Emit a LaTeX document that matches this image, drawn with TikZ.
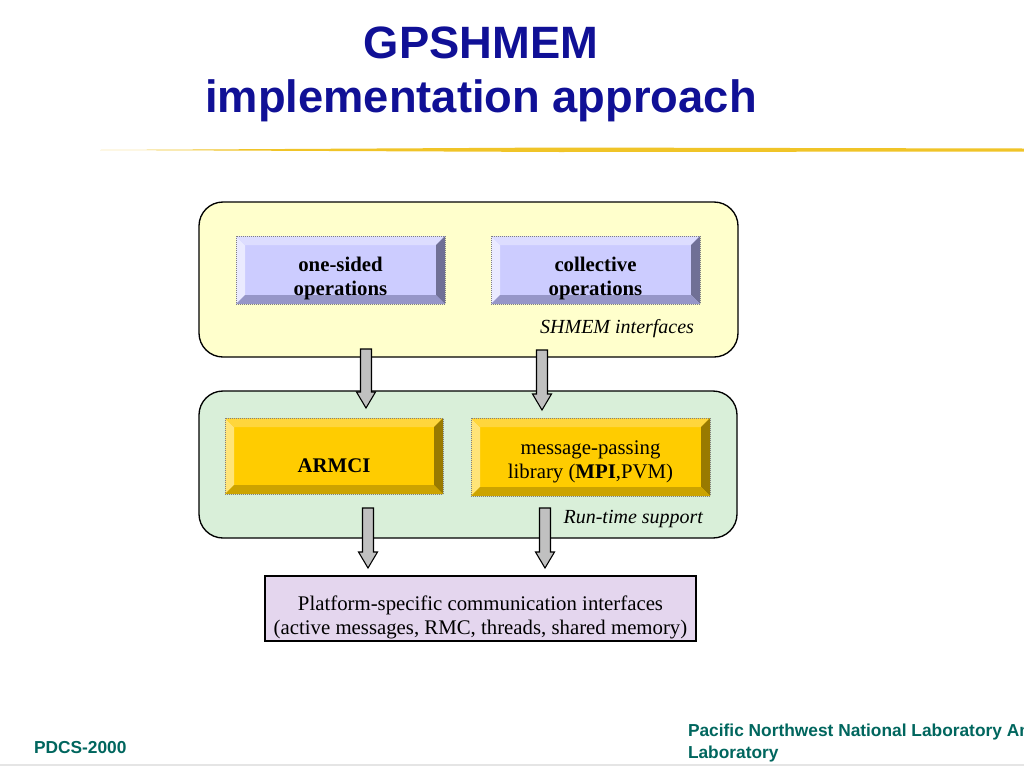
\documentclass[tikz,border=0pt]{standalone}
\usepackage{fontspec}
\setmainfont{Liberation Serif}
\setsansfont{Liberation Sans}
\usetikzlibrary{calc,fit}
\definecolor{titleblue}{RGB}{16,16,150}
\definecolor{footgreen}{RGB}{0,102,94}
\definecolor{rulegold}{RGB}{240,196,40}
\definecolor{shmemfill}{RGB}{255,255,204}
\definecolor{rtfill}{RGB}{217,239,217}
\definecolor{platfill}{RGB}{228,214,238}
\definecolor{arrowgray}{RGB}{192,192,192}
\definecolor{blueface}{RGB}{204,204,255}
\definecolor{bluetop}{RGB}{221,221,255}
\definecolor{blueleft}{RGB}{234,234,255}
\definecolor{blueright}{RGB}{112,112,150}
\definecolor{bluebot}{RGB}{150,150,200}
\definecolor{goldface}{RGB}{255,204,0}
\definecolor{goldtop}{RGB}{255,214,60}
\definecolor{goldleft}{RGB}{255,228,120}
\definecolor{goldright}{RGB}{153,122,0}
\definecolor{goldbot}{RGB}{204,163,0}
\tikzset{x=0.75pt, y=-0.75pt,
  every node/.style={inner sep=0pt, outer sep=0pt},
  layer/.style={draw=black, line width=1pt, rounded corners=18pt},
  boxtext/.style={align=center, font=\fontsize{15.6}{18}\selectfont},
  lbl/.style={font=\fontsize{15}{18}\selectfont\itshape, anchor=base east},
  blockarrow/.style={draw=black, fill=arrowgray, line width=0.8pt, line join=miter},
  ttl/.style={font=\sffamily\bfseries\fontsize{34}{40}\selectfont, text=titleblue, anchor=base},
  foot/.style={font=\sffamily\bfseries\fontsize{13}{16}\selectfont, text=footgreen, anchor=base west}}
\def\barrow#1#2{\draw[blockarrow] ($(#1)+(-5.5,0)$) -- ($(#2)+(-5.5,-16)$) -- ($(#2)+(-9.5,-16)$) -- (#2)
  -- ($(#2)+(9.5,-16)$) -- ($(#2)+(5.5,-16)$) -- ($(#1)+(5.5,0)$) -- cycle;}
% bevelled box: [text shift] name, centre, width, height, tint, text
\newcommand{\bevbox}[7][8]{%
  \node[fill=#6face, minimum width=#4*0.75pt, minimum height=#5*0.75pt] (#2) at (#3) {};
  \fill[#6left] (#2.north west) -- ($(#2.north west)+(9,9)$) -- ($(#2.south west)+(9,-9)$) -- (#2.south west) -- cycle;
  \fill[#6top] (#2.north west) -- (#2.north east) -- ($(#2.north east)+(-9,9)$) -- ($(#2.north west)+(9,9)$) -- cycle;
  \fill[#6right] (#2.north east) -- (#2.south east) -- ($(#2.south east)+(-9,-9)$) -- ($(#2.north east)+(-9,9)$) -- cycle;
  \fill[#6bot] (#2.south west) -- (#2.south east) -- ($(#2.south east)+(-9,-9)$) -- ($(#2.south west)+(9,-9)$) -- cycle;
  \draw[gray, densely dotted, line width=0.5pt] (#2.north west) rectangle (#2.south east);
  \node[boxtext] (#2-t) at ($(#2)+(0,#1)$) {#7};}

\begin{document}
\begin{tikzpicture}
    \useasboundingbox[fill=white] (0,0) rectangle (1024,768);

    % title
    \node[ttl] (t1) at (481,58) {GPSHMEM};
    \node[ttl] (t2) at (481,112) {implementation approach};
    \fill[rulegold] (100,150) -- (560,147.5) -- (1024,148.5) -- (1024,151.5) -- (560,152) -- cycle;

    % layers
    \node[layer, fill=shmemfill, fit={(199,202)(738,357)}] (shm) {};
    \node[layer, fill=rtfill, fit={(199,391)(737,538)}] (rt) {};

    \bevbox{ones}{340.5,270}{209}{68}{blue}{\textbf{one-sided}\\\textbf{operations}}
    \bevbox{coll}{595.5,270}{209}{68}{blue}{\textbf{collective}\\\textbf{operations}}
    \node[lbl] (shml) at (694,333) {SHMEM interfaces};

    \bevbox[10]{armci}{334,456}{218}{76}{gold}{\textbf{ARMCI}}
    \bevbox[5]{mpi}{590.5,457}{239}{78}{gold}{message-passing\\library (\textbf{MPI},PVM)}
    \node[lbl] (rtl) at (703,523) {Run-time support};

    \node[draw=black, line width=1pt, fill=platfill, fit={(265,576)(696,641)}] (plat) {};
    \node[boxtext] (plat-t) at ($(plat)+(0,9)$)
      {Platform-specific communication interfaces\\(active messages, RMC, threads, shared memory)};

    % arrows
    \coordinate (u1) at (366,349); \coordinate (u1e) at (366,408);
    \coordinate (u2) at (542,350); \coordinate (u2e) at (542,410);
    \coordinate (d1) at (368,508); \coordinate (d1e) at (368,568);
    \coordinate (d2) at (545,508); \coordinate (d2e) at (545,568);
    \barrow{u1}{u1e} \barrow{u2}{u2e}
    \barrow{d1}{d1e} \barrow{d2}{d2e}

    % footer
    \node[foot] (pdcs) at (34,753) {PDCS-2000};
    \node[foot] (lab1) at (688,736) {Pacific Northwest National Laboratory Ames};
    \node[foot] (lab2) at (688,758) {Laboratory};
    \draw[gray!20, line width=0.8pt] (0,765) -- (1024,765);
\end{tikzpicture}
\end{document}
